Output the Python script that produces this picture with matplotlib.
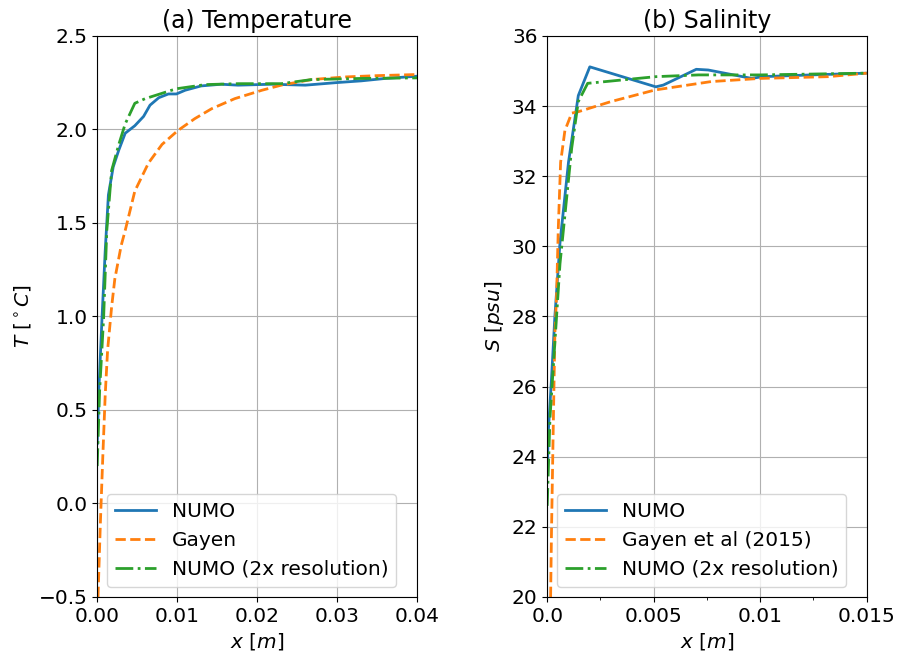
import numpy as np
import matplotlib
matplotlib.use('Agg')
import matplotlib.pyplot as plt
from matplotlib.ticker import MultipleLocator

# (a) Temperature
x_T_numo = [0.0, 0.0002, 0.0006, 0.001, 0.0014, 0.002, 0.0027, 0.0035, 0.0047, 0.0058,
            0.0066, 0.0077, 0.0089, 0.0099, 0.011, 0.013, 0.0155, 0.0176, 0.0218,
            0.026, 0.030, 0.033, 0.036, 0.040]
T_numo = [0.32, 0.6, 0.99, 1.35, 1.65, 1.80, 1.89, 1.98, 2.02, 2.07,
          2.13, 2.17, 2.19, 2.19, 2.21, 2.233, 2.242, 2.237, 2.242,
          2.237, 2.251, 2.26, 2.273, 2.285]

x_T_gayen = [0.0001, 0.0004, 0.0007, 0.001, 0.0013, 0.0018, 0.0022, 0.003, 0.0035, 0.0047,
             0.0064, 0.0081, 0.0101, 0.0122, 0.0143, 0.0172, 0.0206, 0.023,
             0.0268, 0.031, 0.035, 0.040]
T_gayen = [-0.5, -0.1, 0.25, 0.58, 0.82, 1.05, 1.2, 1.38, 1.46, 1.67,
           1.82, 1.92, 1.995, 2.058, 2.111, 2.165, 2.21, 2.237,
           2.267, 2.281, 2.288, 2.294]

x_T_numo2 = [0.0, 0.0003, 0.0008, 0.0012, 0.0018, 0.0027, 0.0035, 0.0047, 0.006,
             0.0077, 0.0093, 0.0101, 0.0135, 0.0176, 0.023, 0.0268, 0.033, 0.040]
T_numo2 = [0.2, 0.6, 0.99, 1.46, 1.78, 1.92, 2.03, 2.14, 2.165,
           2.188, 2.21, 2.219, 2.24, 2.245, 2.245, 2.267, 2.273, 2.276]

# (b) Salinity
x_S_numo = [0.0, 0.00005, 0.0002, 0.00036, 0.0006, 0.001, 0.00146, 0.002, 0.0051, 0.00545,
            0.0070, 0.00756, 0.0096, 0.0101, 0.0124, 0.015]
S_numo = [23.5, 24.7, 26.2, 28.0, 30.1, 32.4, 34.3, 35.12, 34.55, 34.6,
          35.05, 35.03, 34.79, 34.84, 34.89, 34.94]

x_S_gayen = [0.00016, 0.0002, 0.00028, 0.00036, 0.00044, 0.00052, 0.00063, 0.00083, 0.00115,
             0.00146, 0.003, 0.00506, 0.0077, 0.010, 0.0132, 0.015]
S_gayen = [20.0, 21.8, 24.7, 27.5, 28.6, 30.5, 32.4, 33.3, 33.8,
           33.84, 34.13, 34.46, 34.7, 34.79, 34.84, 34.94]

x_S_numo2 = [0.0, 0.00013, 0.00044, 0.0006, 0.00115, 0.00146, 0.0019, 0.0051, 0.0071,
             0.010, 0.015]
S_numo2 = [22.6, 25.1, 28.0, 29.5, 32.8, 34.13, 34.65, 34.84, 34.89,
           34.89, 34.94]

plt.rcParams['font.size'] = 14.5
fig = plt.figure(figsize=(9, 6.52), dpi=100)
ax1 = fig.add_axes([0.108, 0.0844, 0.3556, 0.8604])
ax2 = fig.add_axes([0.608, 0.0844, 0.355, 0.8604])

lw = 2.0
ax1.plot(x_T_numo, T_numo, '-', color='tab:blue', lw=lw, label='NUMO')
ax1.plot(x_T_gayen, T_gayen, '--', color='tab:orange', lw=lw, label='Gayen')
ax1.plot(x_T_numo2, T_numo2, '-.', color='tab:green', lw=lw, label='NUMO (2x resolution)')
ax1.set_xlim(0, 0.04)
ax1.set_ylim(-0.5, 2.5)
ax1.set_xticks([0.0, 0.01, 0.02, 0.03, 0.04])
ax1.set_xticklabels(['0.00', '0.01', '0.02', '0.03', '0.04'])
ax1.grid(True)
ax1.set_title('(a) Temperature', fontsize=17)
ax1.set_xlabel(r'$x\ [m]$')
ax1.set_ylabel(r'$T\ [^\circ C]$')
ax1.legend(loc='lower left')

ax2.plot(x_S_numo, S_numo, '-', color='tab:blue', lw=lw, label='NUMO')
ax2.plot(x_S_gayen, S_gayen, '--', color='tab:orange', lw=lw, label='Gayen et al (2015)')
ax2.plot(x_S_numo2, S_numo2, '-.', color='tab:green', lw=lw, label='NUMO (2x resolution)')
ax2.set_xlim(0, 0.015)
ax2.set_ylim(20, 36)
ax2.set_xticks([0.0, 0.005, 0.01, 0.015])
ax2.set_xticklabels(['0.0', '0.005', '0.01', '0.015'])
ax2.xaxis.set_minor_locator(MultipleLocator(0.0025))
ax2.grid(True, which='major')
ax2.set_title('(b) Salinity', fontsize=17)
ax2.set_xlabel(r'$x\ [m]$')
ax2.set_ylabel(r'$S\ [psu]$')
ax2.legend(loc='lower left')

fig.savefig('out.png', dpi=100)
